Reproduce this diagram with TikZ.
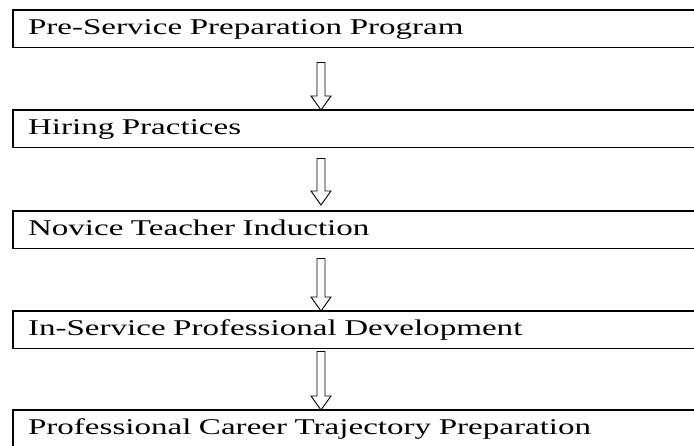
\documentclass[tikz,border=0pt]{standalone}
\usepackage{fontspec}
\setmainfont{Liberation Serif}
% the stage captions are set wide
\newfontfamily\stagefont[FakeStretch=1.47]{Liberation Serif}
\usetikzlibrary{calc}

% hollow block arrow hanging below one stage box and pointing into the next
\newcommand{\flowarrow}[4]{%
  \draw[flow] let \p1=(#1.south west), \p2=(#2.north west) in
    (\x1+304pt,\y1-#3) -- (\x1+304pt,\y2+#4+14pt) -- (\x1+298pt,\y2+#4+14pt)
    -- (\x1+308pt,\y2+#4) -- (\x1+318pt,\y2+#4+14pt) -- (\x1+312pt,\y2+#4+14pt)
    -- (\x1+312pt,\y1-#3) -- cycle;}

\begin{document}
\begin{tikzpicture}[x=1pt, y=1pt,
          stage/.style={draw, line width=1.5pt, anchor=north west, outer sep=0pt,
            minimum height=37.5pt, text width=670pt, inner xsep=15pt, align=left,
            text height=16pt, text depth=4pt, font=\stagefont\fontsize{22.5}{27}\selectfont},
          flow/.style={draw, line width=0.9pt, line join=miter}]
        % boxes run off the right-hand edge, so clip to the page
        \clip (0,-445) rectangle (694,0);
        \node[stage] (prep) at (13,-10) {Pre-Service Preparation Program};
        \node[stage] (hire) at (13,-110) {Hiring Practices};
        \node[stage] (induct) at (13,-211) {Novice Teacher Induction};
        \node[stage] (inserv) at (13,-311) {In-Service Professional Development};
        \node[stage] (career) at (13,-410) {Professional Career Trajectory Preparation};
        \flowarrow{prep}{hire}{15pt}{0pt}
        \flowarrow{hire}{induct}{11pt}{6pt}
        \flowarrow{induct}{inserv}{10pt}{0pt}
        \flowarrow{inserv}{career}{3pt}{0pt}
      \end{tikzpicture}
\end{document}
